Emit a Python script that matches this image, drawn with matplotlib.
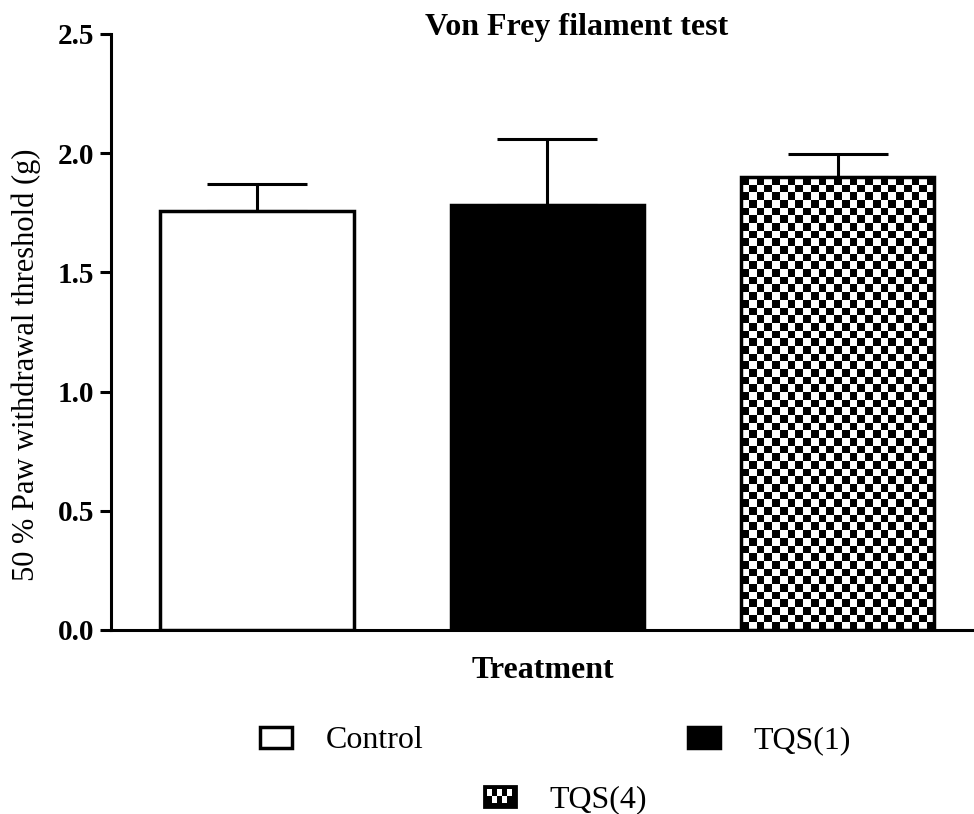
"""Von Frey filament test: 50 % paw withdrawal threshold per treatment group."""
import matplotlib

matplotlib.use("Agg")

import matplotlib.pyplot as plt
import numpy as np
from matplotlib.legend_handler import HandlerPatch
from matplotlib.patches import Rectangle

GROUPS = ["Control", "TQS(1)", "TQS(4)"]
MEANS = [1.759, 1.783, 1.900]
SEM = [0.110, 0.276, 0.097]
Y_TICKS = [0.0, 0.5, 1.0, 1.5, 2.0, 2.5]

SERIF = ["Liberation Serif", "DejaVu Serif"]
BAR_WIDTH = 0.665
CHECK_PX = 7.7  # size of one checkerboard square, in pixels


class HandlerChecker(HandlerPatch):
    """Legend key drawn as a small black/white checkerboard."""

    def create_artists(self, legend, orig_handle, xdescent, ydescent, width, height, fontsize, trans):
        x0, y0 = -xdescent, -ydescent
        artists = [Rectangle((x0, y0), width, height, facecolor="black", edgecolor="black",
                             linewidth=2, transform=trans)]
        nx, ny = 5, 2
        pad = 2.5
        cw = (width - 2 * pad) / nx
        ch = (height - 2 * pad) / ny
        for i in range(nx):
            for j in range(ny):
                if (i + j) % 2 == 1:
                    artists.append(Rectangle((x0 + pad + i * cw, y0 + pad + j * ch), cw, ch,
                                             facecolor="white", edgecolor="none", transform=trans))
        return artists


def main() -> int:
    plt.rcParams["font.family"] = SERIF
    fig = plt.figure(figsize=(9.74, 8.14), dpi=100)
    ax = fig.add_axes([111 / 974, 1 - 630 / 814, 1 - 111 / 974, (630 - 34) / 814])

    x = np.arange(len(GROUPS))
    facecolors = ["white", "black", "none"]
    bars = ax.bar(x, MEANS, width=BAR_WIDTH, color=facecolors, edgecolor="black",
                  linewidth=2.5, zorder=3)

    ax.set_xlim(-0.503, 2.47)
    ax.set_ylim(0, 2.5)

    # checkerboard fill for the last bar, clipped to the bar outline
    chk = bars[2]
    bx0, bx1 = chk.get_x(), chk.get_x() + chk.get_width()
    top = chk.get_height()
    p0 = ax.transData.transform((bx0, 0))
    p1 = ax.transData.transform((bx1, top))
    nx = max(1, int(round((p1[0] - p0[0]) / CHECK_PX)))
    ny = max(1, int(round((p1[1] - p0[1]) / CHECK_PX)))
    board = np.indices((ny, nx)).sum(axis=0) % 2
    ax.imshow(board, cmap="gray", extent=(bx0, bx1, 0, top), origin="upper",
              interpolation="nearest", aspect="auto", zorder=2)
    ax.set_xlim(-0.503, 2.47)
    ax.set_ylim(0, 2.5)

    ax.errorbar(x, MEANS, yerr=[np.zeros(len(SEM)), SEM], fmt="none", ecolor="black",
                elinewidth=2.2, capsize=36, capthick=2.2, zorder=1)

    for side in ("top", "right"):
        ax.spines[side].set_visible(False)
    for side in ("left", "bottom"):
        ax.spines[side].set_linewidth(2.2)

    ax.set_xticks([])
    ax.set_yticks(Y_TICKS)
    ax.set_yticklabels([f"{v:.1f}" for v in Y_TICKS], fontsize=21, fontweight="bold")
    ax.tick_params(axis="y", direction="out", length=8, width=2.2, pad=4)

    ax.set_ylabel("50 % Paw withdrawal threshold (g)", fontsize=22, va="center")
    ax.yaxis.set_label_coords(-0.0985, 0.445)
    ax.set_xlabel("Treatment", fontsize=23, fontweight="bold", va="center")
    ax.xaxis.set_label_coords(0.5, -0.068)

    fig.text(577 / 974, 1 - 28 / 814, "Von Frey filament test", ha="center", va="center",
             fontsize=23, fontweight="bold")

    legend_spots = [(260, 741), (688, 741), (484, 800)]
    for bar, label, (lx, ly) in zip(bars, GROUPS, legend_spots):
        handler_map = {bar: HandlerChecker()} if label == "TQS(4)" else None
        fig.legend([bar], [label], loc="center left",
                   bbox_to_anchor=(lx / 974, 1 - ly / 814), frameon=False,
                   fontsize=23, borderpad=0, borderaxespad=0,
                   handlelength=1.0, handleheight=0.65, handletextpad=1.05,
                   handler_map=handler_map)

    fig.savefig("out.png", dpi=100)
    plt.close(fig)
    return 0


if __name__ == "__main__":
    raise SystemExit(main())
